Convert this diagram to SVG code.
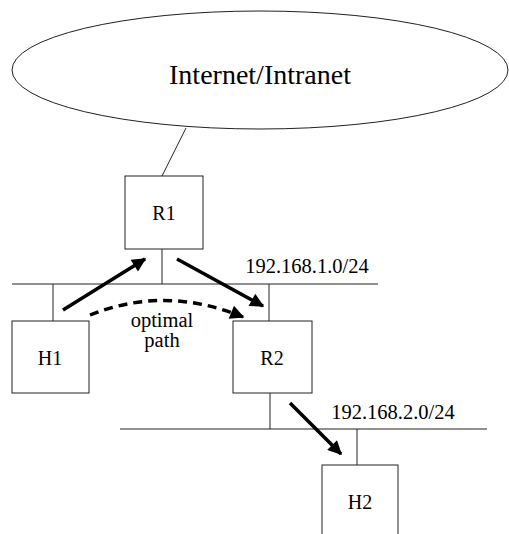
<svg xmlns="http://www.w3.org/2000/svg" width="509" height="534" viewBox="0 0 509 534">
<style>
.ln{stroke:#222;stroke-width:1;fill:none}
.box{stroke:#222;stroke-width:1;fill:#fff}
.t{font-family:"Liberation Serif",serif;fill:#000;text-anchor:middle}
.arr{stroke:#000;stroke-width:3.5;fill:none}
</style>
<defs>
<marker id="ah" viewBox="0 0 10 10" refX="9" refY="5" markerWidth="4.5" markerHeight="4" orient="auto" markerUnits="strokeWidth">
<path d="M0,0 L10,5 L0,10 z" fill="#000"/>
</marker>
</defs>
<rect width="509" height="534" fill="#fff"/>
<g id="connectors">
<line class="ln" x1="186" y1="128" x2="162" y2="176"/>
<line class="ln" x1="162" y1="249" x2="162" y2="284"/>
<line class="ln" x1="12" y1="284" x2="378" y2="284"/>
<line class="ln" x1="53" y1="284" x2="53" y2="321"/>
<line class="ln" x1="269" y1="284" x2="269" y2="321"/>
<line class="ln" x1="270" y1="393" x2="270" y2="429"/>
<line class="ln" x1="120" y1="429" x2="487" y2="429"/>
<line class="ln" x1="357" y1="429" x2="357" y2="465"/>
<line class="arr" x1="63" y1="310" x2="145" y2="259" marker-end="url(#ah)"/>
<line class="arr" x1="177" y1="259" x2="263" y2="306" marker-end="url(#ah)"/>
<line class="arr" x1="290" y1="403" x2="341" y2="454" marker-end="url(#ah)"/>
<path class="arr" d="M90,315 Q165,285 243,317" stroke-dasharray="9,6" marker-end="url(#ah)"/>
</g>
<g id="internet">
<ellipse class="box" cx="260" cy="70" rx="248" ry="59"/>
<text class="t" x="260" y="84" font-size="28">Internet/Intranet</text>
</g>
<g id="R1">
<rect class="box" x="125" y="176" width="78" height="73"/>
<text class="t" x="164" y="220" font-size="20">R1</text>
</g>
<g id="H1">
<rect class="box" x="12" y="321" width="77" height="72"/>
<text class="t" x="50" y="365" font-size="20">H1</text>
</g>
<g id="R2">
<rect class="box" x="233" y="321" width="79" height="72"/>
<text class="t" x="272" y="365" font-size="20">R2</text>
</g>
<g id="H2">
<rect class="box" x="322" y="465" width="76" height="75"/>
<text class="t" x="360" y="509" font-size="20">H2</text>
</g>
<g id="labels">
<text class="t" x="307" y="273" font-size="20.5">192.168.1.0/24</text>
<text class="t" x="393" y="419" font-size="20.5">192.168.2.0/24</text>
<text class="t" x="162" y="327" font-size="20.5">optimal</text>
<text class="t" x="162" y="347" font-size="20.5">path</text>
</g>
</svg>
